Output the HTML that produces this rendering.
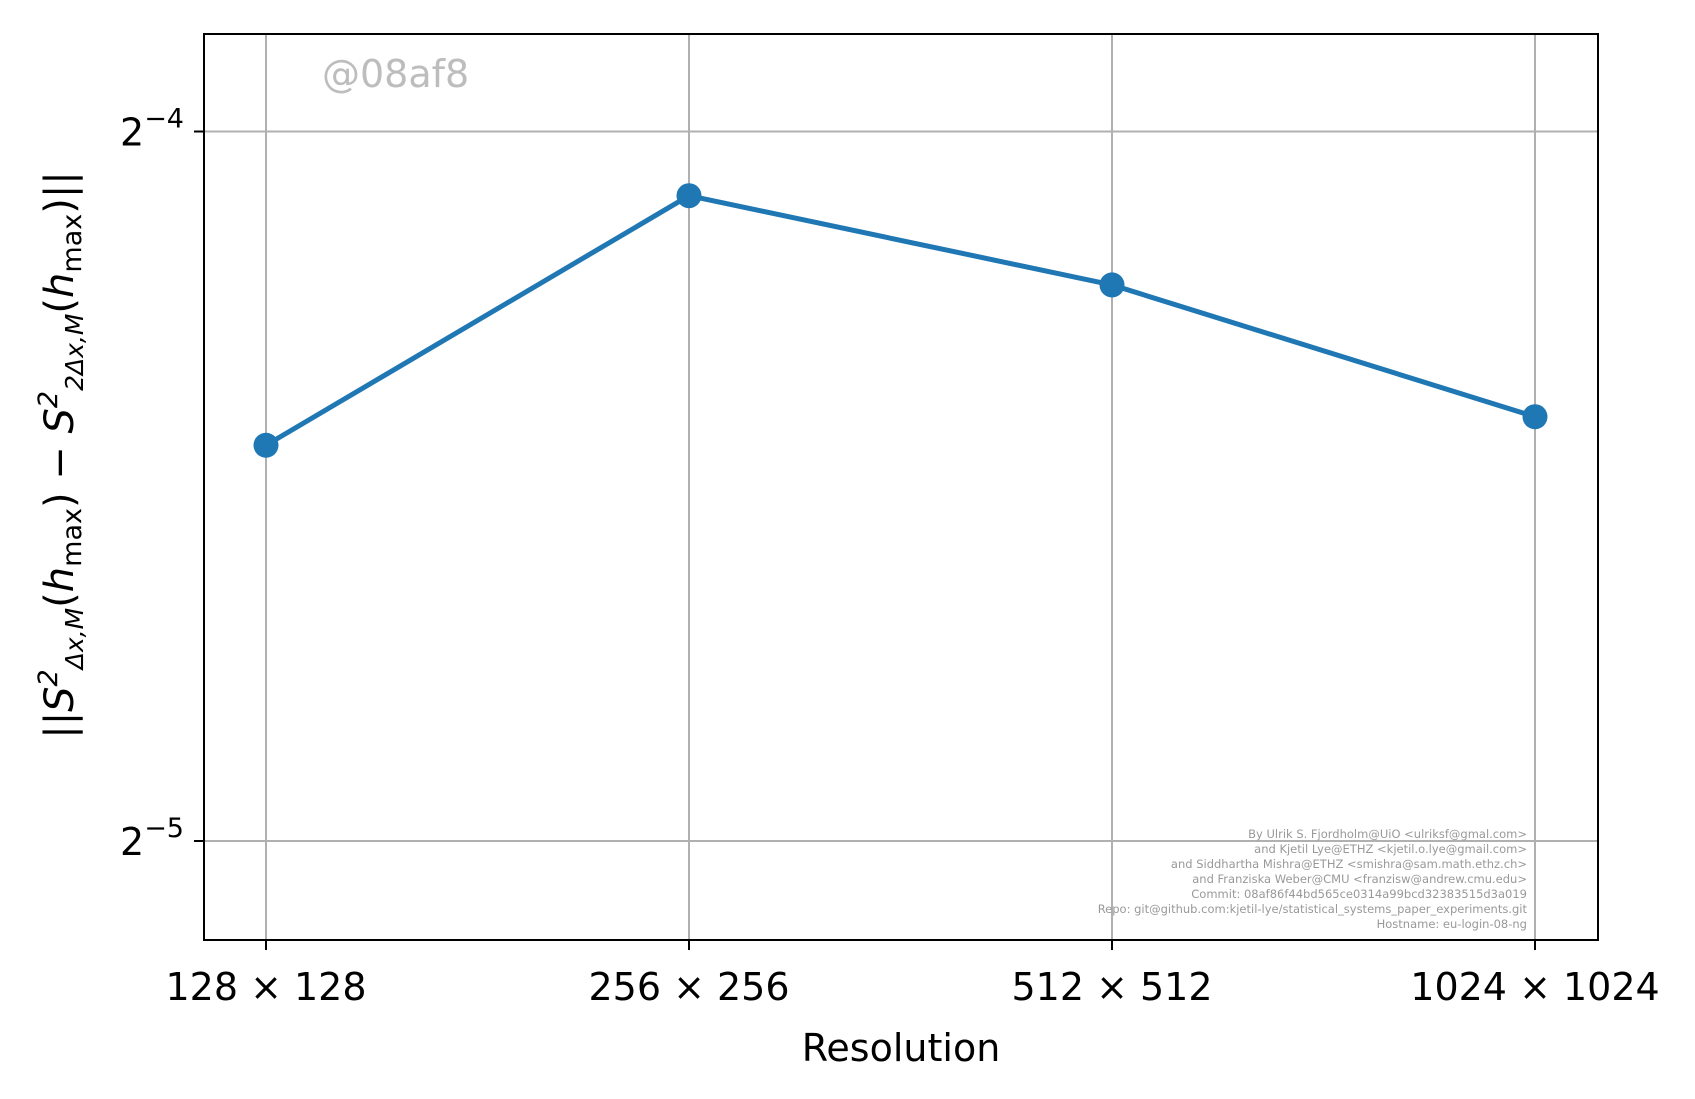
<!DOCTYPE html>
<html><head><meta charset="utf-8"><style>
html,body{margin:0;padding:0;background:#fff;}
svg{display:block;font-family:"DejaVu Sans","Liberation Sans",sans-serif;}
</style></head><body>
<svg id="chart" width="1695" height="1099" viewBox="0 0 1695 1099" xmlns="http://www.w3.org/2000/svg">
<rect width="1695" height="1099" fill="#fff"/>
<g id="grid"></g>
<g id="series"></g>
<rect x="204" y="34" width="1394" height="906" fill="none" stroke="#000" stroke-width="2"/>
<g id="ticks"></g>
<text x="322" y="87" font-size="38" fill="#bdbdbd">@08af8</text>
<g font-size="11.5" fill="#999" text-anchor="end">
<text x="1527" y="838">By Ulrik S. Fjordholm@UiO &lt;ulriksf@gmal.com&gt;</text>
<text x="1527" y="853">and Kjetil Lye@ETHZ &lt;kjetil.o.lye@gmail.com&gt;</text>
<text x="1527" y="868">and Siddhartha Mishra@ETHZ &lt;smishra@sam.math.ethz.ch&gt;</text>
<text x="1527" y="883">and Franziska Weber@CMU &lt;franzisw@andrew.cmu.edu&gt;</text>
<text x="1527" y="898">Commit: 08af86f44bd565ce0314a99bcd32383515d3a019</text>
<text x="1527" y="913">Repo: git@github.com:kjetil-lye/statistical_systems_paper_experiments.git</text>
<text x="1527" y="928">Hostname: eu-login-08-ng</text>
</g>
<text x="901" y="1061" font-size="38" text-anchor="middle">Resolution</text>
<text transform="translate(73,455) rotate(-90)" font-size="40" text-anchor="middle" font-style="italic">||S<tspan font-size="27" dy="-16">2</tspan><tspan font-size="25" dy="26">Δx,M</tspan><tspan dy="-10" font-style="normal">(</tspan>h<tspan font-size="27" dy="8" font-style="normal">max</tspan><tspan dy="-8" font-style="normal">) − </tspan>S<tspan font-size="27" dy="-16">2</tspan><tspan font-size="25" dy="26">2Δx,M</tspan><tspan dy="-10" font-style="normal">(</tspan>h<tspan font-size="27" dy="8" font-style="normal">max</tspan><tspan dy="-8" font-style="normal">)||</tspan></text>
</svg>
<script>
const categories = ["128 × 128", "256 × 256", "512 × 512", "1024 × 1024"];
const values = [0.0460, 0.0587, 0.0538, 0.0473];
const yTickExps = [-4, -5];

const NS = "http://www.w3.org/2000/svg";
const xPos = i => 266 + i * 423;
const yPos = v => 131.5 + (-4 - Math.log2(v)) * 709.5;
function mk(tag, attrs, parent){const e=document.createElementNS(NS,tag);for(const k in attrs)e.setAttribute(k,attrs[k]);parent.appendChild(e);return e;}
const grid=document.getElementById('grid'), ticks=document.getElementById('ticks'), series=document.getElementById('series');
categories.forEach((c,i)=>{
  const x=xPos(i);
  const g=mk('line',{x1:x,x2:x,y1:34,y2:940,stroke:'#b0b0b0','stroke-width':2},grid);
  
  
  const t=mk('line',{x1:x,x2:x,y1:940,y2:950,stroke:'#000','stroke-width':2},ticks);
  
  
  const l=mk('text',{x:x,y:1000,'font-size':38,'text-anchor':'middle'},ticks);
  l.textContent=c;
  
  
});
yTickExps.forEach(e=>{
  const y=yPos(Math.pow(2,e));
  const g=mk('line',{x1:204,x2:1598,y1:y,y2:y,stroke:'#b0b0b0','stroke-width':2},grid);
  
  
  const t=mk('line',{x1:194,x2:204,y1:y,y2:y,stroke:'#000','stroke-width':2},ticks);
  
  
  const l=mk('text',{x:184,y:y+14,'font-size':38,'text-anchor':'end'},ticks);
  l.innerHTML='2<tspan font-size="27" dy="-18">−'+Math.abs(e)+'</tspan>';
  
  
});
const pts=values.map((v,i)=>xPos(i)+','+yPos(v)).join(' ');
const pl=mk('polyline',{points:pts,fill:'none',stroke:'#1f77b4','stroke-width':5,'stroke-linejoin':'round'},series);


values.forEach((v,i)=>{
  const c=mk('circle',{cx:xPos(i),cy:yPos(v),r:12.5,fill:'#1f77b4'},series);
  
  
});
</script>
</body></html>
